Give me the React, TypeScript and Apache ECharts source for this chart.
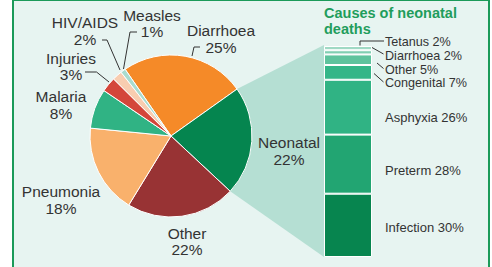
import React, { useEffect, useRef } from 'react';
import * as echarts from 'echarts';

// ---- data ----
const causeNames = ['Diarrhoea', 'Neonatal', 'Other', 'Pneumonia', 'Malaria', 'Injuries', 'HIV/AIDS', 'Measles'];
const causeValues = [25, 22, 22, 18, 8, 3, 2, 1];
const causeColors = ['#F58A28', '#05854F', '#983334', '#F9B16C', '#30B384', '#D4463A', '#F8CDB0', '#A9DCCF'];

const neoNames = ['Infection', 'Preterm', 'Asphyxia', 'Congenital', 'Other', 'Diarrhoea', 'Tetanus'];
const neoValues = [30, 28, 26, 7, 5, 2, 2];
const neoColors = ['#07854F', '#22A572', '#30B384', '#34B688', '#5EC39D', '#80CFB2', '#9FD9C4'];

const titleLines = ['Causes of neonatal', 'deaths'];

// ---- layout ----
const W = 492;
const H = 267;
const PIE_C = [171, 136];
const PIE_R = 81;
const START = 124.5;
const BAR = { left: 324, top: 46, width: 48, height: 211 };
const pieLabelPos = [[221, 39], [289, 151], [187, 241.5], [61, 200], [61, 105], [71, 66.5], [85, 31], [152, 23.5]];
const barLabelY = [227, 170, 117, 83.2, 69.5, 55.8, 42.1];
const pieLeaders = [
  [[192, 56], [194, 47], [200, 47]],
  [[85, 72], [96.5, 72], [109, 82]],
  [[102, 40], [107, 40], [120, 70]],
  [[123.5, 69], [130, 32], [137, 32]],
];
const barLeaders = [
  [[360, 45.5], [360, 41], [384, 41]],
  [[372, 47.5], [383.5, 54]],
  [[377, 63], [383.5, 68.5]],
  [[374, 73.5], [383.5, 82]],
];

const FONT = 'Liberation Sans, Arial, Helvetica, sans-serif';
const TEXT = '#333333';

export default function App() {
  const ref = useRef<HTMLDivElement>(null);
  useEffect(() => {
    const chart = echarts.init(ref.current!, null, { renderer: 'svg' });
    const total = causeValues.reduce((a, b) => a + b, 0);
    const a0 = START - (causeValues[0] / total) * 360;
    const a1 = a0 - (causeValues[1] / total) * 360;
    const pt = (a: number) => [PIE_C[0] + PIE_R * Math.cos((a * Math.PI) / 180), PIE_C[1] - PIE_R * Math.sin((a * Math.PI) / 180)];
    const wedge = [PIE_C, pt(a0), [BAR.left, BAR.top - 1], [BAR.left, BAR.top + BAR.height], pt(a1)];

    const graphics: any[] = [
      { type: 'rect', z: 0, shape: { x: 13, y: 0, width: 476, height: 290 }, style: { fill: '#E7F4F1', stroke: '#1B9A59', lineWidth: 2 } },
      { type: 'polygon', z: 1, shape: { points: wedge }, style: { fill: '#B5DFD3' } },
    ];
    titleLines.forEach((t, i) => {
      graphics.push({
        type: 'text',
        z: 5,
        x: 324,
        y: 12.8 + i * 15.8,
        style: { text: t, fontFamily: FONT, fontSize: 14.5, fontWeight: 'bold', fill: '#1F9D5C', verticalAlign: 'middle' },
      });
    });
    [...pieLeaders, ...barLeaders].forEach((pts) => {
      graphics.push({ type: 'polyline', z: 5, shape: { points: pts }, style: { stroke: TEXT, lineWidth: 1, fill: 'none' } });
    });

    const barSeries = neoNames.map((name, i) => ({
      type: 'bar',
      name,
      stack: 'neo',
      data: [neoValues[i]],
      barWidth: '100%',
      z: 3,
      itemStyle: { color: neoColors[i], borderColor: '#ffffff', borderWidth: 1 },
      label: {
        show: true,
        position: 'right',
        formatter: `${name} ${neoValues[i]}%`,
        fontFamily: FONT,
        fontSize: i >= 3 ? 12.6 : 13,
        color: TEXT,
      },
      labelLayout: { x: 385, y: barLabelY[i], align: 'left', verticalAlign: 'middle' },
    }));

    chart.setOption({
      animation: false,
      backgroundColor: '#ffffff',
      grid: { left: BAR.left, top: BAR.top, width: BAR.width, height: BAR.height },
      xAxis: { type: 'category', data: ['Neonatal'], show: false },
      yAxis: { type: 'value', min: 0, max: 100, show: false },
      graphic: graphics,
      series: [
        {
          type: 'pie',
          z: 3,
          center: PIE_C,
          radius: PIE_R,
          startAngle: START,
          clockwise: true,
          avoidLabelOverlap: false,
          data: causeNames.map((name, i) => ({ name, value: causeValues[i], itemStyle: { color: causeColors[i] } })),
          itemStyle: { borderColor: '#ffffff', borderWidth: 1 },
          label: {
            show: true,
            position: 'outside',
            formatter: '{b}\n{c}%',
            fontFamily: FONT,
            fontSize: 15.5,
            lineHeight: 16.5,
            color: TEXT,
            align: 'center',
          },
          labelLine: { show: false },
          labelLayout: (p: any) => ({ x: pieLabelPos[p.dataIndex][0], y: pieLabelPos[p.dataIndex][1], align: 'center', verticalAlign: 'middle' }),
        },
        ...barSeries,
      ],
    });
    return () => chart.dispose();
  }, []);
  return <div ref={ref} style={{ position: 'fixed', left: 0, top: 0, width: W, height: H }} />;
}
